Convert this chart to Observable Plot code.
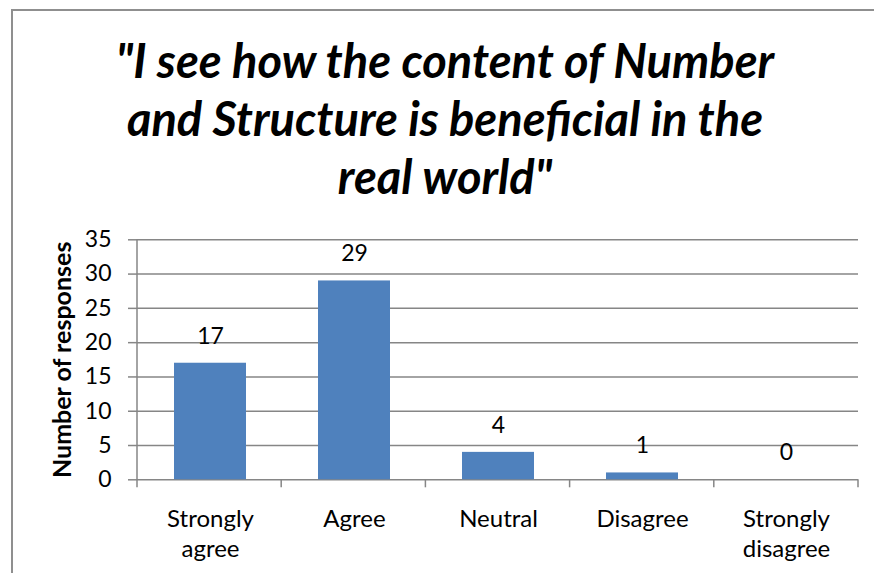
<!DOCTYPE html>
<html><head><meta charset="utf-8">
<script src="https://cdn.jsdelivr.net/npm/d3@7"></script>
<script src="https://cdn.jsdelivr.net/npm/@observablehq/plot@0.6"></script>
<style>
body{margin:0;background:#fff;}
#wrap{position:relative;width:874px;height:573px;overflow:hidden;font-family:Lato,sans-serif;background:#fff;}
#frame{position:absolute;left:11px;top:9px;width:1000px;height:1000px;border-left:2px solid #8f8f8f;border-top:2px solid #8f8f8f;}
#title{position:absolute;left:11px;width:868px;top:31px;text-align:center;font-weight:bold;font-style:italic;font-size:47px;line-height:58px;color:#000;z-index:2;}
#chart{position:absolute;left:0;top:0;z-index:1;}
</style>
</head><body>
<div id="wrap"><div id="frame"></div><div id="chart"></div><div id="title"></div></div>
<script>
const titleLines = ["\"I see how the content of Number", "and Structure is beneficial in the", "real world\""];
const categories = ["Strongly agree", "Agree", "Neutral", "Disagree", "Strongly disagree"];
const categoryLabels = ["Strongly\nagree", "Agree", "Neutral", "Disagree", "Strongly\ndisagree"];
const responses = [17, 29, 4, 1, 0];
const yTicks = [0, 5, 10, 15, 20, 25, 30, 35];
const yLabel = "Number of responses";

const titleEl = document.getElementById("title");
titleLines.forEach((t, i) => { if (i) titleEl.appendChild(document.createElement("br")); titleEl.appendChild(document.createTextNode(t)); });

const data = categories.map((c, i) => ({category: c, label: categoryLabels[i], value: responses[i]}));
const gray = "#868686";

const chart = Plot.plot({
  width: 874, height: 573,
  marginTop: 239.3, marginBottom: 93.7, marginLeft: 137, marginRight: 16,
  style: {fontFamily: "Lato, sans-serif", fontSize: "22px", color: "#000", background: "transparent"},
  x: {domain: categories, paddingInner: 0.5, paddingOuter: 0.25, axis: null},
  y: {domain: [0, 35], axis: null},
  marks: [
    Plot.ruleY(yTicks, {stroke: gray, strokeWidth: 1.5, strokeOpacity: 1}),
    Plot.axisY({ticks: yTicks, tickSize: 9, tickPadding: 17, stroke: gray, strokeWidth: 1.5, strokeOpacity: 1, label: null, fontSize: 23, fill: "#000"}),
    (index, scales, values, dims) => {
      const g = d3.create("svg:g");
      const left = dims.marginLeft, right = dims.width - dims.marginRight;
      const y0 = scales.y(0), yTop = scales.y(yTicks[yTicks.length - 1]);
      g.append("line").attr("x1", left).attr("x2", left).attr("y1", yTop).attr("y2", y0 + 8)
        .attr("stroke", gray).attr("stroke-width", 1.5);
      const n = categories.length;
      for (let i = 1; i <= n; i++) {
        const xx = left + i * (right - left) / n;
        g.append("line").attr("x1", xx).attr("x2", xx).attr("y1", y0).attr("y2", y0 + 8)
          .attr("stroke", gray).attr("stroke-width", 1.5);
      }
      return g.node();
    },
    Plot.barY(data, {x: "category", y: "value", fill: "#4F81BD"}),
    Plot.text(data, {x: "category", y: "value", text: d => String(d.value), dy: -27, fontSize: 23, fill: "#000"}),
    Plot.text(data, {x: "category", frameAnchor: "bottom", text: "label", dy: 26, lineAnchor: "top", lineHeight: 1.25, fontSize: 24, fill: "#000"}),
    Plot.text([yLabel], {frameAnchor: "left", textAnchor: "middle", rotate: -90, dx: -75, fontWeight: "bold", fontSize: 25, fill: "#000"})
  ]
});
document.getElementById("chart").appendChild(chart);
</script>
</body></html>
